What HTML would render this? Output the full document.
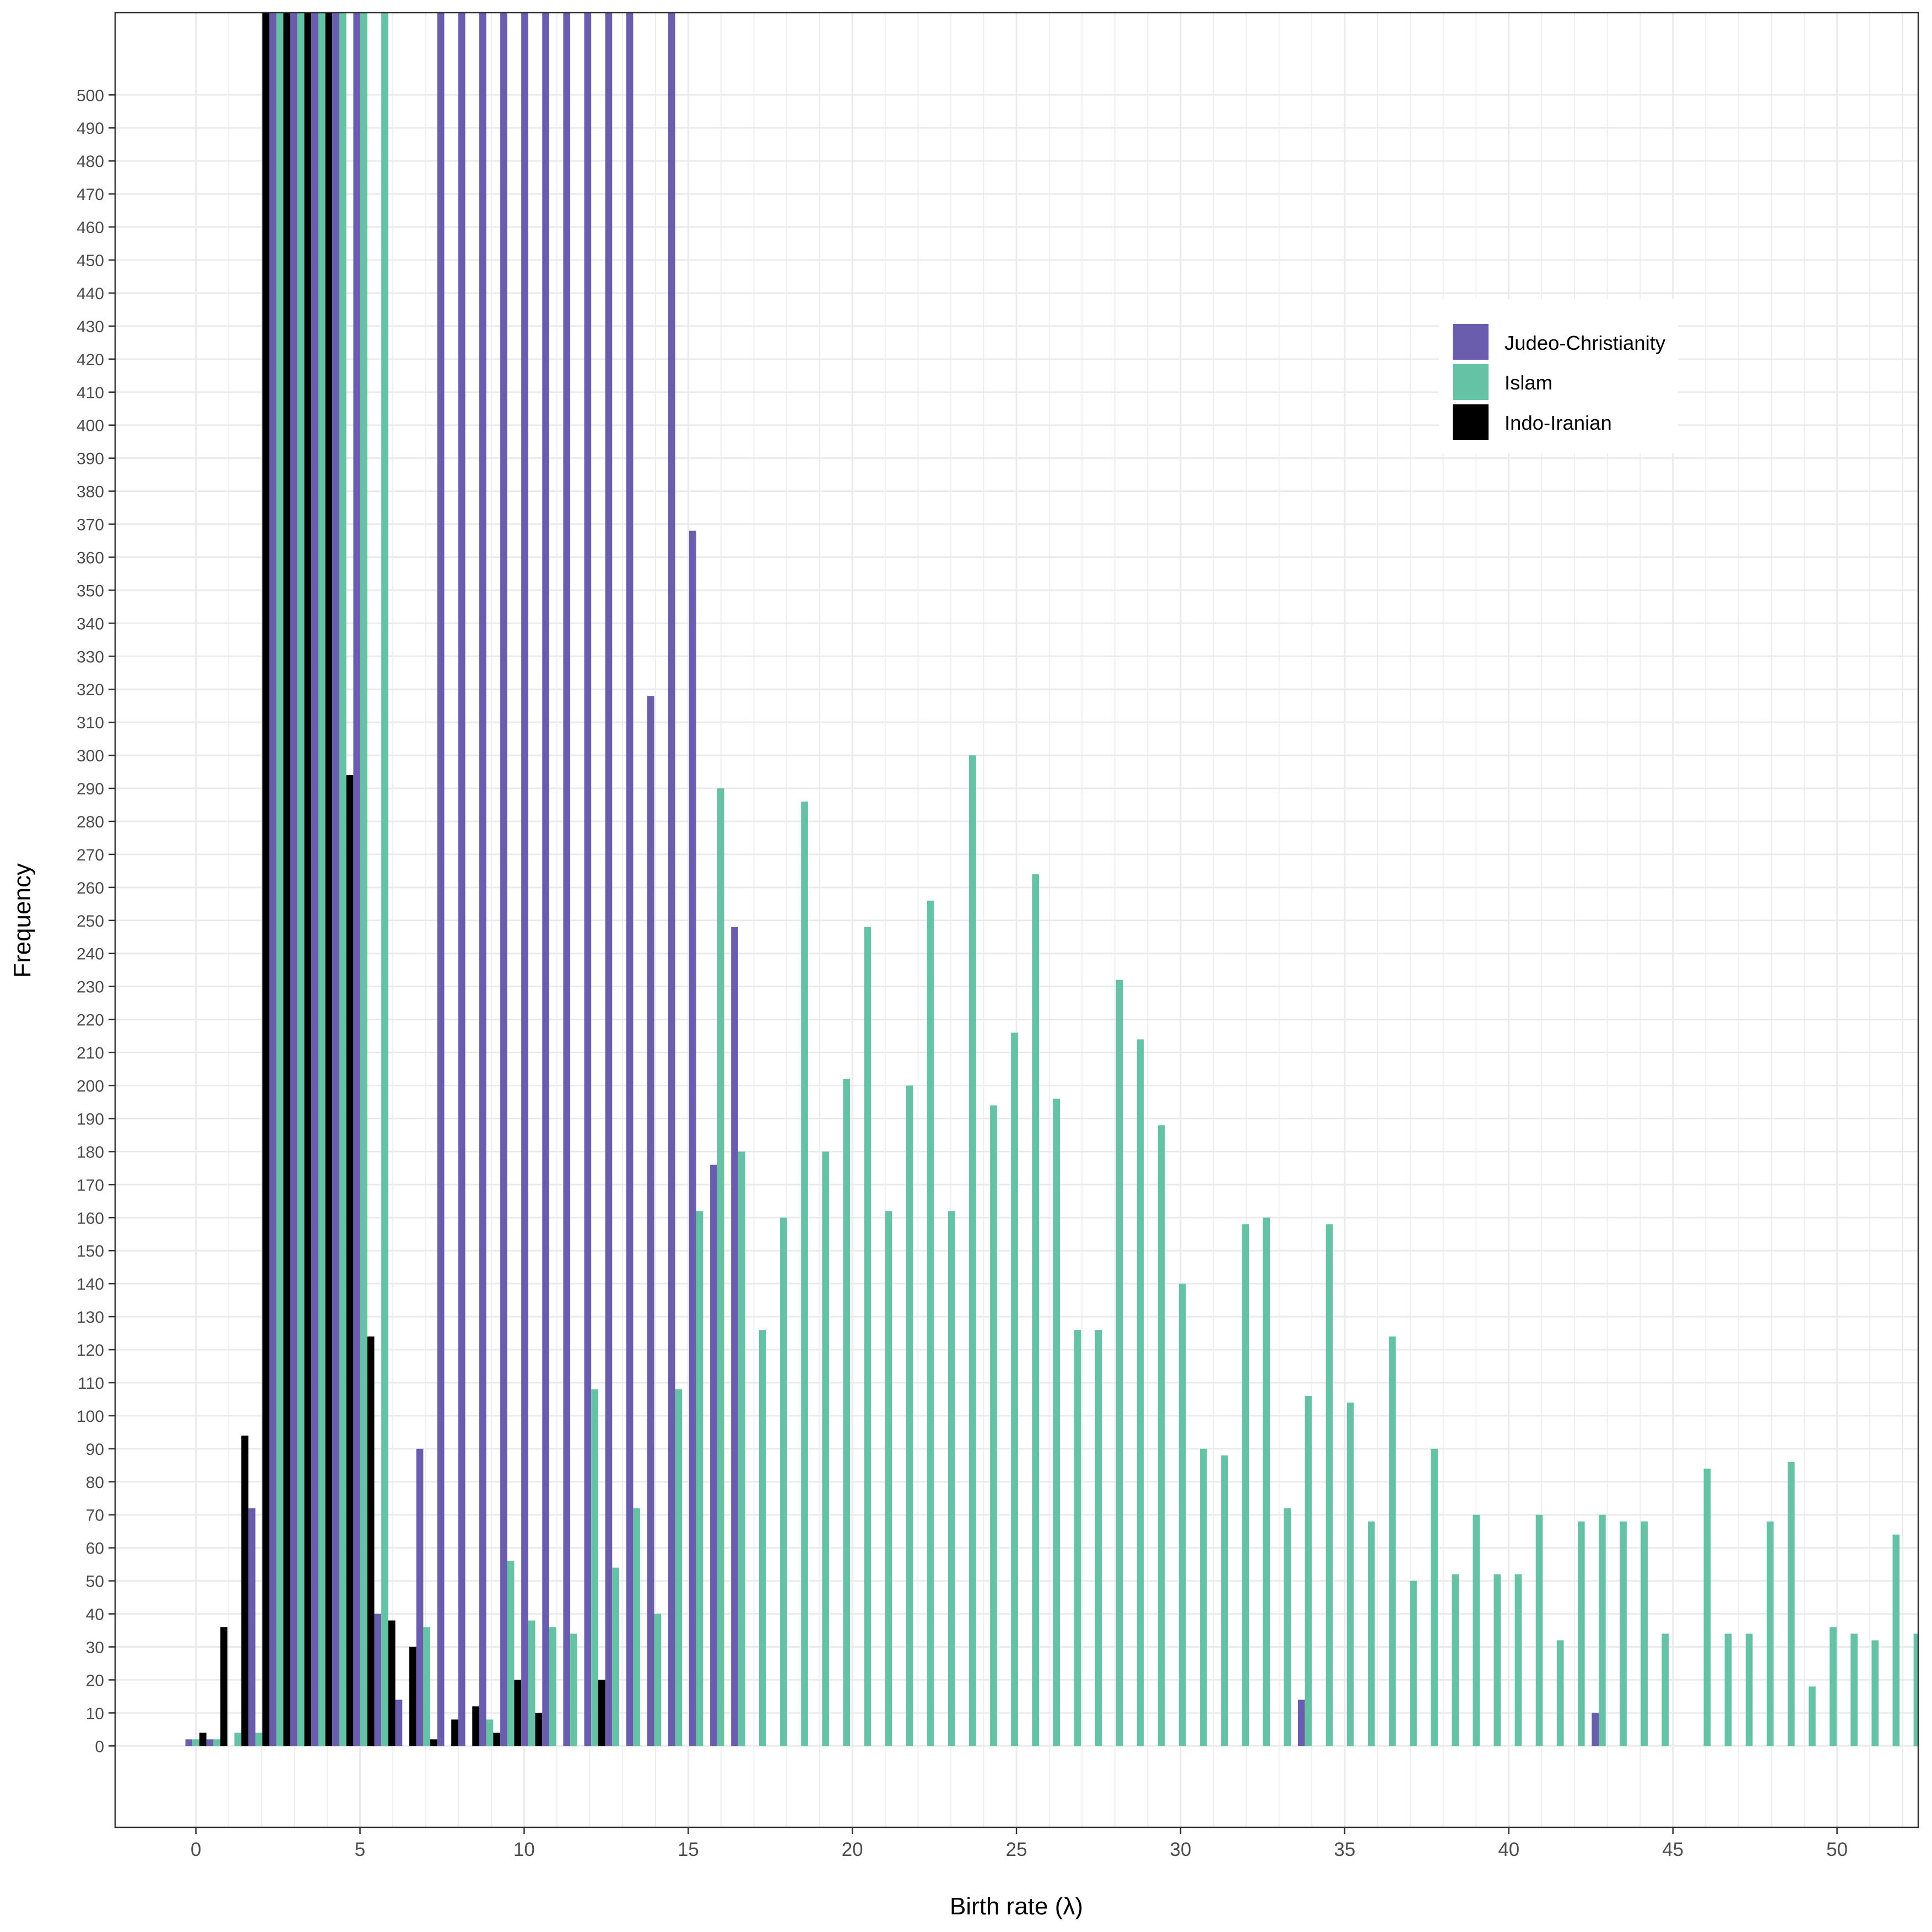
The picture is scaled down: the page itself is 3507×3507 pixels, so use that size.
<!DOCTYPE html>
<html><head><meta charset="utf-8"><title>Birth rate histogram</title>
<style>
html,body{margin:0;padding:0;background:#fff;}
svg{display:block;font-family:"Liberation Sans",Arial,sans-serif;}
</style></head>
<body>
<svg id="chart" width="3507" height="3507" viewBox="0 0 3507 3507" xmlns="http://www.w3.org/2000/svg">
  <defs><clipPath id="panelClip"><rect x="209" y="23" width="3273" height="3294"/></clipPath></defs>
  <rect x="0" y="0" width="3507" height="3507" fill="#fff"/>
  <g id="grid"></g>
  <g id="bars" clip-path="url(#panelClip)"></g>
  <rect x="209" y="23" width="3273" height="3294" fill="none" stroke="#333" stroke-width="2.5"/>
  <g id="yaxis"></g>
  <g id="xaxis"></g>
  <text x="1845" y="3475" font-size="44" text-anchor="middle" fill="#000">Birth rate (λ)</text>
  <text x="0" y="0" font-size="44" text-anchor="middle" fill="#000" transform="translate(55,1671) rotate(-90)">Frequency</text>
  <g>
    <rect x="2612" y="543" width="434" height="280" fill="#fff"/>
    <g>
      <rect x="2637" y="588" width="65" height="65" fill="#6a5dad"/>
      <text x="2731" y="635" font-size="36.5" fill="#000">Judeo-Christianity</text>
    </g>
    <g>
      <rect x="2637" y="661" width="65" height="65" fill="#66c2a5"/>
      <text x="2731" y="707" font-size="36.5" fill="#000">Islam</text>
    </g>
    <g>
      <rect x="2637" y="734" width="65" height="65" fill="#000"/>
      <text x="2731" y="780" font-size="36.5" fill="#000">Indo-Iranian</text>
    </g>
  </g>
</svg>
<script>
// ---- data (bins k = 0..82, bin width ~0.64 in birth-rate units) ----
const binWidth = 0.6395;
const seriesNames = ["Judeo-Christianity", "Islam", "Indo-Iranian"];
const seriesColors = ["#6a5dad", "#66c2a5", "#000000"];
// Values > 525 are clipped at the top of the panel in the reference
const judeoChristianity = [2,2,0,72,1200,1200,1200,1200,1200,40,14,90,1200,1200,1200,1200,1200,1200,1200,1200,1200,1200,318,1200,368,176,248,0,0,0,0,0,0,0,0,0,0,0,0,0,0,0,0,0,0,0,0,0,0,0,0,0,0,14,0,0,0,0,0,0,0,0,0,0,0,0,0,10,0,0,0,0,0,0,0,0,0,0,0,0,0,0,0];
const islam = [2,2,4,4,1200,1200,1200,1200,1200,1200,0,36,0,0,8,56,38,36,34,108,54,72,40,108,162,290,180,126,160,286,180,202,248,162,200,256,162,300,194,216,264,196,126,126,232,214,188,140,90,88,158,160,72,106,158,104,68,124,50,90,52,70,52,52,70,32,68,70,68,68,34,0,84,34,34,68,86,18,36,34,32,64,34];
const indoIranian = [4,36,94,1200,1200,1200,1200,294,124,38,30,2,8,12,4,20,10,0,0,20,0,0,0,0,0,0,0,0,0,0,0,0,0,0,0,0,0,0,0,0,0,0,0,0,0,0,0,0,0,0,0,0,0,0,0,0,0,0,0,0,0,0,0,0,0,0,0,0,0,0,0,0,0,0,0,0,0,0,0,0,0,0,0];
const xTickLabels = ["0","5","10","15","20","25","30","35","40","45","50"];
const yTickLabels = [0,10,20,30,40,50,60,70,80,90,100,110,120,130,140,150,160,170,180,190,200,210,220,230,240,250,260,270,280,290,300,310,320,330,340,350,360,370,380,390,400,410,420,430,440,450,460,470,480,490,500];

// ---- scales ----
const panel = {left:209, right:3482, top:23, bottom:3317};
function xScale(u){ return 355.6 + u*59.58; }
function yScale(v){ return 3169.3 - v*5.994; }
const NS = "http://www.w3.org/2000/svg";
function mk(tag, attrs){ const e=document.createElementNS(NS,tag); for(const k in attrs) e.setAttribute(k, attrs[k]); return e; }

// ---- grid ----
const grid = document.getElementById("grid");
for (let u=0; u<=52; u++){
  const major = (u%5===0);
  const l = mk("line",{x1:xScale(u),x2:xScale(u),y1:panel.top,y2:panel.bottom,stroke:"#ebebeb","stroke-width":major?3:1.6});
  
  
  grid.appendChild(l);
}
yTickLabels.forEach(v=>{
  const l = mk("line",{x1:panel.left,x2:panel.right,y1:yScale(v),y2:yScale(v),stroke:"#ebebeb","stroke-width":3});
  
  
  grid.appendChild(l);
});

// ---- bars ----
const bars = document.getElementById("bars");
const allSeries = [judeoChristianity, islam, indoIranian];
const barW = binWidth/3;
for (let k=0; k<islam.length; k++){
  const center = k*binWidth;
  allSeries.forEach((s, si)=>{
    const v = s[k];
    if (!v) return;
    const x0 = xScale(center - binWidth/2 + si*barW);
    const x1 = xScale(center - binWidth/2 + (si+1)*barW);
    const yTop = yScale(v), yBase = yScale(0);
    const r = mk("rect",{x:x0,y:yTop,width:x1-x0,height:yBase-yTop,fill:seriesColors[si]});
    
    
    bars.appendChild(r);
  });
}

// ---- y axis ----
const yaxis = document.getElementById("yaxis");
yTickLabels.forEach(v=>{
  const t = mk("line",{x1:panel.left-12,x2:panel.left,y1:yScale(v),y2:yScale(v),stroke:"#333","stroke-width":2.5});
  
  
  yaxis.appendChild(t);
  const lab = mk("text",{x:panel.left-20,y:yScale(v)+11,"font-size":30,"text-anchor":"end",fill:"#4d4d4d"});
  lab.textContent = String(v);
  
  
  yaxis.appendChild(lab);
});

// ---- x axis ----
const xaxis = document.getElementById("xaxis");
xTickLabels.forEach(s=>{
  const u = parseFloat(s);
  const t = mk("line",{x1:xScale(u),x2:xScale(u),y1:panel.bottom,y2:panel.bottom+12,stroke:"#333","stroke-width":2.5});
  
  
  xaxis.appendChild(t);
  const lab = mk("text",{x:xScale(u),y:panel.bottom+52,"font-size":35,"text-anchor":"middle",fill:"#4d4d4d"});
  lab.textContent = s;
  
  
  xaxis.appendChild(lab);
});
</script>
</body></html>
